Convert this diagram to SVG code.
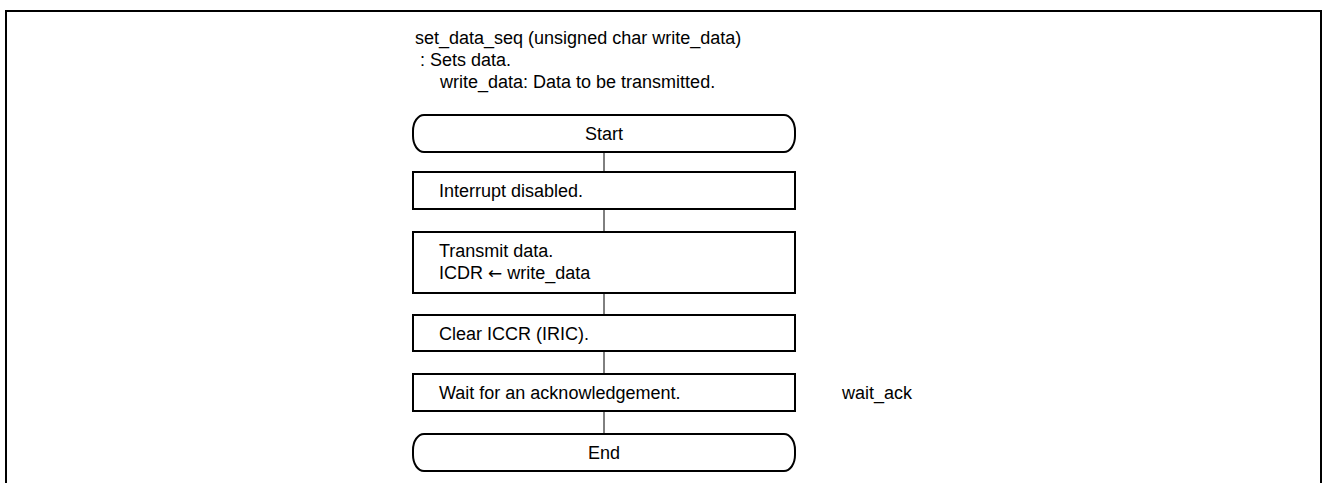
<svg xmlns="http://www.w3.org/2000/svg" width="1322" height="483" viewBox="0 0 1322 483">
  <style>
    text { font-family: "Liberation Sans", Arial, sans-serif; font-size: 18px; fill: #000; }
    .arrow { font-family: "DejaVu Sans", sans-serif; font-size: 17px; }
    .box { fill: #fff; stroke: #000; stroke-width: 2; }
    .frame { fill: none; stroke: #000; stroke-width: 2; }
    .link { stroke: #000; stroke-width: 1; fill: none; }
    .mid { text-anchor: middle; }
  </style>
  <rect width="1322" height="483" fill="#fff"/>
  <!-- outer frame, open at the bottom -->
  <path class="frame" d="M6,483 V11 H1321 V483"/>

  <!-- function header -->
  <g id="header">
    <text x="415" y="44">set_data_seq (unsigned char write_data)</text>
    <text x="420" y="66">: Sets data.</text>
    <text x="440" y="88">write_data: Data to be transmitted.</text>
  </g>

  <!-- vertical flow connectors -->
  <g id="connectors">
    <line class="link" x1="604" y1="152" x2="604" y2="172"/>
    <line class="link" x1="604" y1="209" x2="604" y2="232"/>
    <line class="link" x1="604" y1="293" x2="604" y2="315"/>
    <line class="link" x1="604" y1="351" x2="604" y2="374"/>
    <line class="link" x1="604" y1="411" x2="604" y2="434"/>
  </g>

  <g id="start">
    <rect class="box" x="413" y="115" width="382" height="37" rx="11" ry="16"/>
    <text class="mid" x="604" y="140">Start</text>
  </g>

  <g id="interrupt-disabled">
    <rect class="box" x="413" y="172" width="382" height="37"/>
    <text x="439" y="197">Interrupt disabled.</text>
  </g>

  <g id="transmit-data">
    <rect class="box" x="413" y="232" width="382" height="61"/>
    <text x="439" y="257">Transmit data.</text>
    <text x="439" y="279">ICDR <tspan class="arrow">←</tspan> write_data</text>
  </g>

  <g id="clear-iccr">
    <rect class="box" x="413" y="315" width="382" height="36"/>
    <text x="439" y="340">Clear ICCR (IRIC).</text>
  </g>

  <g id="wait-ack">
    <rect class="box" x="413" y="374" width="382" height="37"/>
    <text x="439" y="399">Wait for an acknowledgement.</text>
    <text x="842" y="399">wait_ack</text>
  </g>

  <g id="end">
    <rect class="box" x="413" y="434" width="382" height="37" rx="11" ry="16"/>
    <text class="mid" x="604" y="459">End</text>
  </g>
</svg>
